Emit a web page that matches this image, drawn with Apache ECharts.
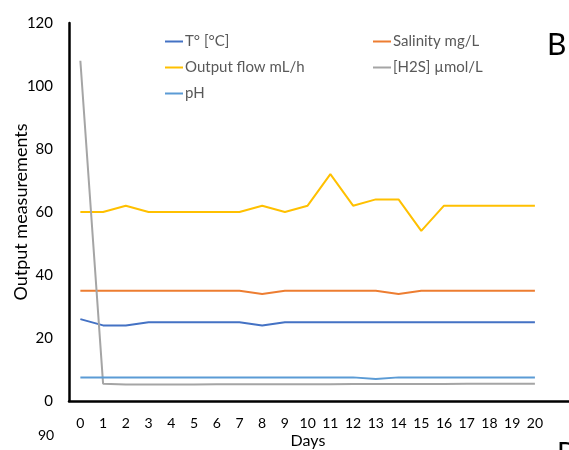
<!DOCTYPE html>
<html>
<head>
<meta charset="utf-8">
<script src="https://cdn.jsdelivr.net/npm/echarts@6/dist/echarts.min.js"></script>
<style>
html, body { margin: 0; padding: 0; background: #fff; }
#chart { width: 569px; height: 450px; }
</style>
</head>
<body>
<div id="chart"></div>
<script>
// jours (la derniere categorie vide prolonge l'axe jusqu'au bord)
var days = ['0','1','2','3','4','5','6','7','8','9','10','11','12','13','14','15','16','17','18','19','20',''];
var temperature = [26,24,24,25,25,25,25,25,24,25,25,25,25,25,25,25,25,25,25,25,25];
var salinity = [35,35,35,35,35,35,35,35,34,35,35,35,35,35,34,35,35,35,35,35,35];
var outputFlow = [60,60,62,60,60,60,60,60,62,60,62,72,62,64,64,54,62,62,62,62,62];
var h2s = [108,5.5,5.2,5.2,5.2,5.2,5.3,5.3,5.3,5.3,5.3,5.3,5.4,5.4,5.4,5.4,5.4,5.5,5.5,5.5,5.5];
var ph = [7.5,7.5,7.5,7.5,7.5,7.5,7.5,7.5,7.5,7.5,7.5,7.5,7.5,7,7.5,7.5,7.5,7.5,7.5,7.5,7.5];
var yTicks = [0, 20, 40, 60, 80, 100, 120];

var font = 'Lato';
var chart = echarts.init(document.getElementById('chart'));

function ligne(name, data, color) {
	return {
		name: name,
		type: 'line',
		data: data,
		symbol: 'none',
		lineStyle: { color: color, width: 2 },
		itemStyle: { color: color },
		animation: false
	};
}

var option = {
	textStyle: { fontFamily: font },
	grid: { left: 69, right: 0, top: 23, bottom: 49, outerBoundsMode: 'none' },
	legend: [{
		data: ['T° [°C]', 'Output flow mL/h', 'pH'],
		orient: 'vertical',
		left: 165, top: 34, padding: 0,
		icon: 'rect', itemWidth: 18, itemHeight: 2, itemGap: 11,
		textStyle: { color: '#595959', fontSize: 15, fontFamily: font, padding: [0, 0, 0, -3] }
	}, {
		data: ['Salinity mg/L', '[H2S] µmol/L'],
		orient: 'vertical',
		left: 373, top: 34, padding: 0,
		icon: 'rect', itemWidth: 18, itemHeight: 2, itemGap: 11,
		textStyle: { color: '#595959', fontSize: 15, fontFamily: font, padding: [0, 0, 0, -3] }
	}],
	xAxis: {
		type: 'category',
		data: days,
		name: 'Days',
		nameLocation: 'middle',
		nameGap: 32,
		nameMoveOverlap: false,
		nameTextStyle: { color: '#000', fontSize: 16, fontFamily: font, padding: [0, 0, 0, -22] },
		axisLine: { lineStyle: { color: '#000', width: 2.5 } },
		axisTick: { show: false },
		axisLabel: { color: '#000', fontSize: 14, fontFamily: font, margin: 15, interval: 0 }
	},
	yAxis: {
		type: 'value',
		min: yTicks[0],
		max: yTicks[yTicks.length - 1],
		interval: 20,
		name: 'Output measurements',
		nameLocation: 'middle',
		nameGap: 39,
		nameMoveOverlap: false,
		nameTextStyle: { color: '#000', fontSize: 18, fontFamily: font },
		axisLine: { show: true, lineStyle: { color: '#000', width: 2.5 } },
		axisTick: { show: false },
		splitLine: { show: false },
		axisLabel: { color: '#000', fontSize: 15, fontFamily: font, margin: 16 }
	},
	graphic: [
		{ type: 'text', left: 547, top: 30, style: { text: 'B', fontSize: 30, fontFamily: font, fill: '#000' } },
		{ type: 'text', left: 38, top: 428, style: { text: '90', fontSize: 14, fontFamily: font, fill: '#000' } },
		{ type: 'text', left: 557, top: 440, style: { text: 'B', fontSize: 28, fontFamily: font, fill: '#000' } }
	],
	series: [
		ligne('T° [°C]', temperature, '#4472C4'),
		ligne('Salinity mg/L', salinity, '#ED7D31'),
		ligne('Output flow mL/h', outputFlow, '#FFC000'),
		ligne('[H2S] µmol/L', h2s, '#A5A5A5'),
		ligne('pH', ph, '#5B9BD5')
	]
};

chart.setOption(option);
</script>
</body>
</html>
